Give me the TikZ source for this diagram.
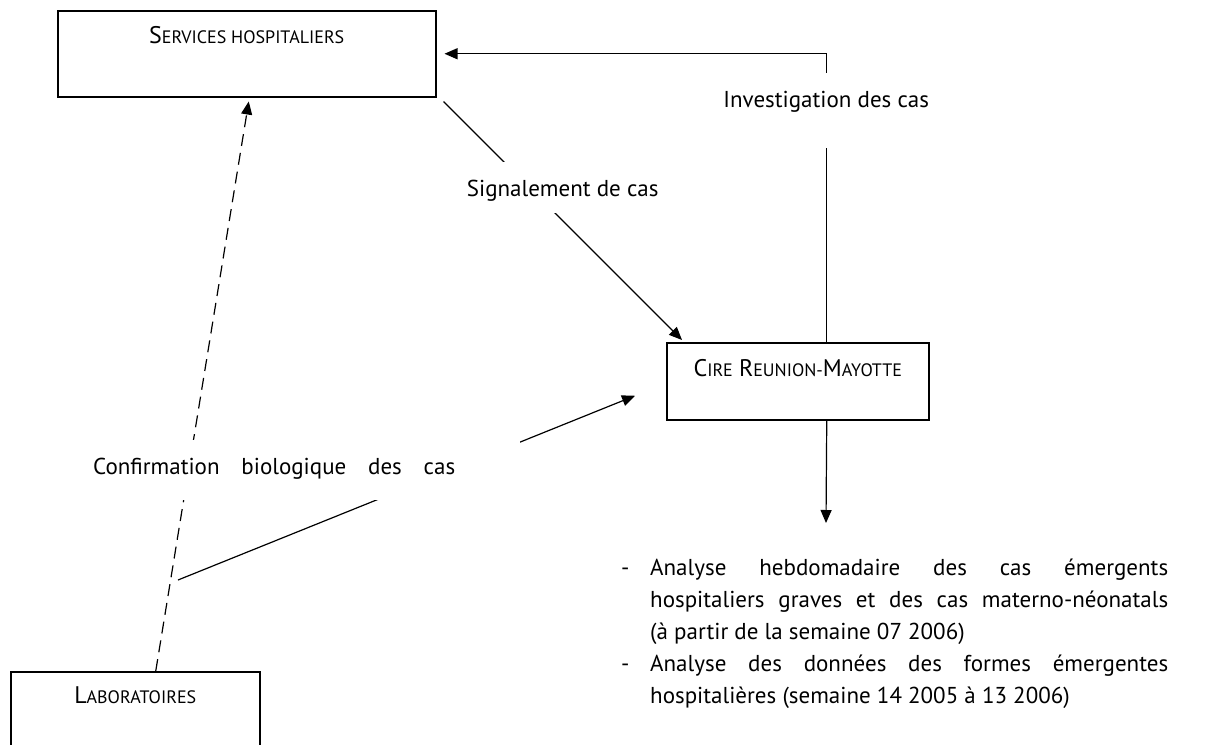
\documentclass[tikz,border=0pt]{standalone}
\usepackage{fontspec}
\setmainfont{PT Sans}
\usetikzlibrary{arrows.meta,calc}
\newcommand\fsc[2]{{\fontsize{24}{24}\selectfont #1}{\fontsize{18}{18}\selectfont #2}}
\begin{document}
\begin{tikzpicture}[x=1pt,y=-1pt,
  every node/.style={font=\fontsize{23}{32}\selectfont},
  box/.style={draw,line width=1.5pt,inner sep=0pt,anchor=north west},
  conn/.style={line width=1.2pt},
  tip/.style={-{Triangle[length=13pt,width=11pt]}},
  dashline/.style={dash pattern=on 12pt off 7pt},
  cover/.style={fill=white,inner sep=0pt,anchor=north west},
  txt/.style={anchor=base west,inner sep=0pt}]
\useasboundingbox (0,0) rectangle (1209,744);
\clip (0,0) rectangle (1209,744);

% boxes
\node[box,minimum width=378pt,text height=33pt,text depth=53pt] (serv) at (57,10) {\fsc{S}{ERVICES HOSPITALIERS}};
\node[box,minimum width=262pt,text height=34pt,text depth=43pt] (cire) at (666,342) {\fsc{C}{IRE} \fsc{R}{EUNION-}\fsc{M}{AYOTTE}};
\node[box,minimum width=249pt,text height=32pt,text depth=60pt] (lab) at (10,671) {\fsc{L}{ABORATOIRES}};

% connectors
\coordinate (outend) at (826,523);
\coordinate (cstart) at (178,580);
\draw[conn,tip,shorten >=8pt] ([xshift=29pt]cire.north) |- (serv.east);
\draw[conn,tip] ([xshift=29pt]cire.south) -- (outend);
\draw[conn,tip] ($(serv.south east)+(7,4)$) -- ($(cire.north west)+(16,-2)$);
\draw[conn,tip,dashline] ($(lab.north)+(20.5,0)$) -- ($(serv.south)+(2,4)$);
\draw[conn,tip] (cstart) -- ($(cire.west)+(-31,14.5)$);

% labels covering the connectors
\node[cover,minimum width=205pt,text height=34pt,text depth=17pt] (sig) at (460,162) {Signalement de cas};
\node[cover,minimum width=220pt,text height=34pt,text depth=41pt] (inv) at (716,73) {Investigation des cas};
\node[cover,text height=34pt,text depth=26pt] (conf) at (80,440) {\hspace*{13pt}\makebox[362pt][s]{Confirmation biologique des cas}\hspace*{65pt}};

% bullet text
\node[txt] (d1) at (621,575) {-};
\node[txt] (b1) at (650,575) {\makebox[518pt][s]{Analyse hebdomadaire des cas émergents}};
\node[txt] (b2) at (650,607) {\makebox[518pt][s]{hospitaliers graves et des cas materno-néonatals}};
\node[txt] (b3) at (650,639) {(à partir de la semaine 07 2006)};
\node[txt] (d2) at (621,671) {-};
\node[txt] (b4) at (650,671) {\makebox[518pt][s]{Analyse des données des formes émergentes}};
\node[txt] (b5) at (650,703) {hospitalières (semaine 14 2005 à 13 2006)};
\end{tikzpicture}
\end{document}
